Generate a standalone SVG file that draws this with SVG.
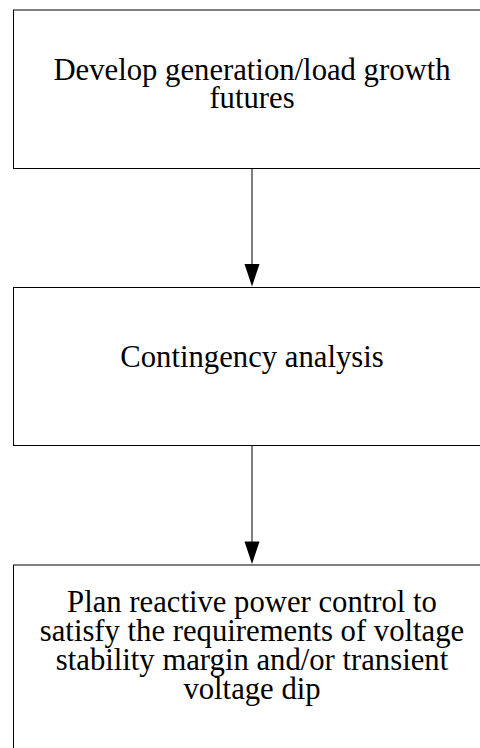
<svg xmlns="http://www.w3.org/2000/svg" width="480" height="748" viewBox="0 0 480 748">
  <style>
    .box { fill: #ffffff; stroke: #000000; stroke-width: 1; }
    .label { font-family: "Liberation Serif", "Times New Roman", serif; font-size: 30.7px; fill: #000000; text-anchor: middle; }
    .link { stroke: #000000; stroke-width: 1; fill: none; }
  </style>
  <defs>
    <marker id="arrow" markerUnits="userSpaceOnUse" markerWidth="16" markerHeight="23" refX="7.5" refY="22" orient="auto-start-reverse" viewBox="0 0 15 22">
      <path d="M0,0 L15,0 L7.5,22 Z" fill="#000000" transform="rotate(-90 7.5 11) translate(0 0)"/>
    </marker>
  </defs>
  <rect width="480" height="748" fill="#ffffff"/>

  <g id="step-futures">
    <rect class="box" x="13.5" y="10" width="477" height="158.5"/>
    <text class="label" x="252" y="80">Develop generation/load growth</text>
    <text class="label" x="252" y="108">futures</text>
  </g>

  <g id="step-contingency">
    <rect class="box" x="13.5" y="287.5" width="477" height="158"/>
    <text class="label" x="252" y="367">Contingency analysis</text>
  </g>

  <g id="step-reactive-plan">
    <rect class="box" x="13.5" y="565" width="477" height="200"/>
    <text class="label" x="252" y="612">Plan reactive power control to</text>
    <text class="label" x="252" y="641">satisfy the requirements of voltage</text>
    <text class="label" x="252" y="670">stability margin and/or transient</text>
    <text class="label" x="252" y="699">voltage dip</text>
  </g>

  <g id="connectors">
    <line class="link" x1="252" y1="168.5" x2="252" y2="265"/>
    <path d="M244.5,264 L259.5,264 L252,286.5 Z" fill="#000000"/>
    <line class="link" x1="252" y1="446" x2="252" y2="542"/>
    <path d="M244.5,541.5 L259.5,541.5 L252,564 Z" fill="#000000"/>
  </g>
</svg>
